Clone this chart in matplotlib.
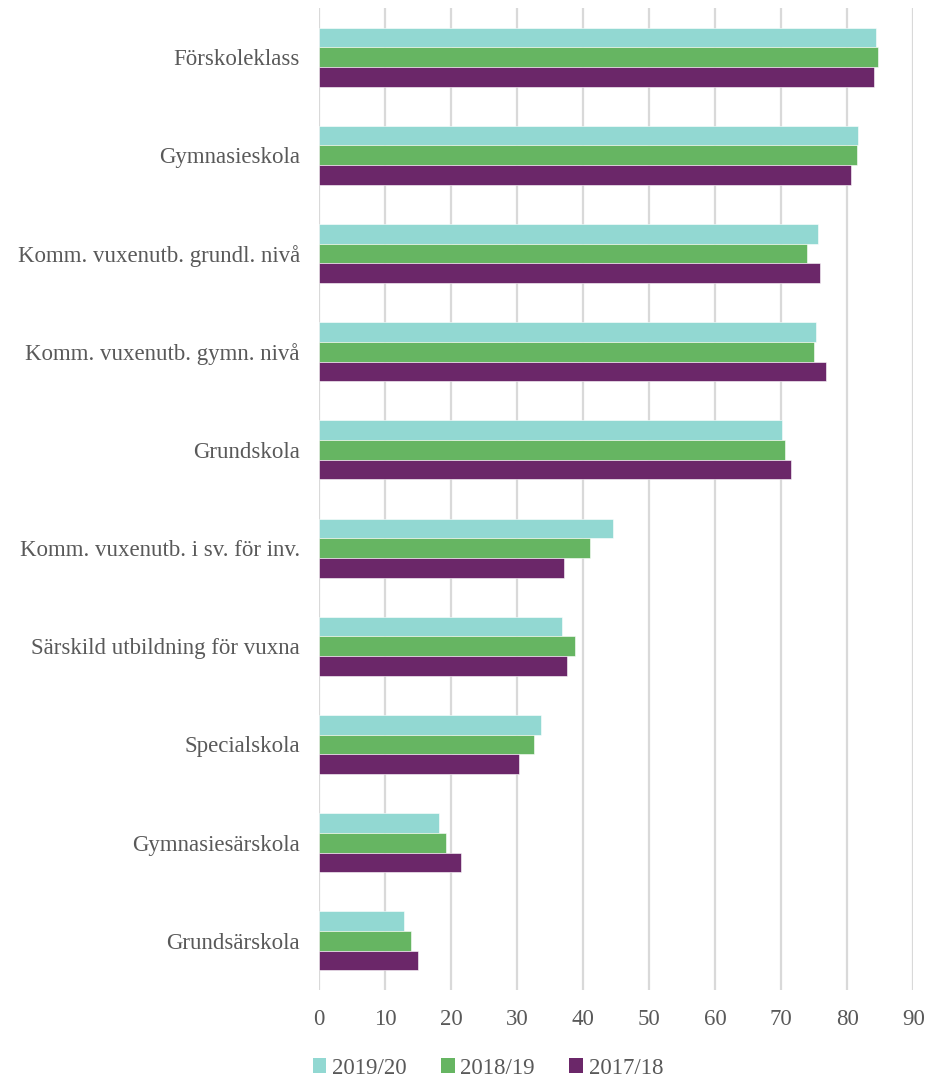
import numpy as np
import matplotlib
matplotlib.use("Agg")
import matplotlib.pyplot as plt
from matplotlib.patches import Patch

# Data
categories = [
    "Förskoleklass",
    "Gymnasieskola",
    "Komm. vuxenutb. grundl. nivå",
    "Komm. vuxenutb. gymn. nivå",
    "Grundskola",
    "Komm. vuxenutb. i sv. för inv.",
    "Särskild utbildning för vuxna",
    "Specialskola",
    "Gymnasiesärskola",
    "Grundsärskola",
]
v_2019_20 = [84.4, 81.6, 75.6, 75.3, 70.1, 44.5, 36.7, 33.6, 18.2, 12.9]
v_2018_19 = [84.7, 81.4, 73.9, 75.0, 70.5, 41.0, 38.8, 32.6, 19.2, 13.9]
v_2017_18 = [84.0, 80.6, 75.9, 76.7, 71.4, 37.1, 37.6, 30.3, 21.4, 14.9]
series_labels = ["2019/20", "2018/19", "2017/18"]
colors = ["#92d8d2", "#66b562", "#6b2769"]
xticks = [0, 10, 20, 30, 40, 50, 60, 70, 80, 90]

plt.rcParams["font.family"] = ["Liberation Serif", "DejaVu Serif"]
text_color = "#595959"
fs = 16.5

fig = plt.figure(figsize=(9.25, 10.79), dpi=100)
ax = fig.add_axes([319.3 / 925, 1 - 990 / 1079, (913.3 - 319.3) / 925, 982 / 1079])

y = np.arange(len(categories))
h = 0.2
for i, (vals, lab, col) in enumerate(zip([v_2019_20, v_2018_19, v_2017_18], series_labels, colors)):
    ax.barh(y + (i - 1) * h, vals, height=h, color=col, label=lab,
            edgecolor="white", linewidth=0.4, zorder=3)

ax.set_ylim(len(categories) - 0.5, -0.5)
ax.set_xlim(0, 90)
ax.set_yticks(y)
ax.set_yticklabels(categories, fontsize=fs, color=text_color)
ax.set_xticks(xticks)
ax.set_xticklabels([str(t) for t in xticks], fontsize=fs, color=text_color)
ax.tick_params(axis="both", length=0)
ax.tick_params(axis="y", pad=14)
ax.tick_params(axis="x", pad=14)
for s in ax.spines.values():
    s.set_visible(False)
ax.grid(axis="x", color="#d9d9d9", linewidth=1.6, zorder=0)
ax.set_axisbelow(True)

handles = [Patch(facecolor=c, edgecolor="none") for c in colors]
fig.legend(handles, series_labels, loc="center", bbox_to_anchor=(488 / 925, 1 - 1068 / 1079),
           ncol=3, frameon=False, fontsize=fs, handlelength=0.6, handleheight=0.6,
           handletextpad=0.25, columnspacing=1.5, labelcolor=text_color)

fig.savefig("out.png", dpi=100)
